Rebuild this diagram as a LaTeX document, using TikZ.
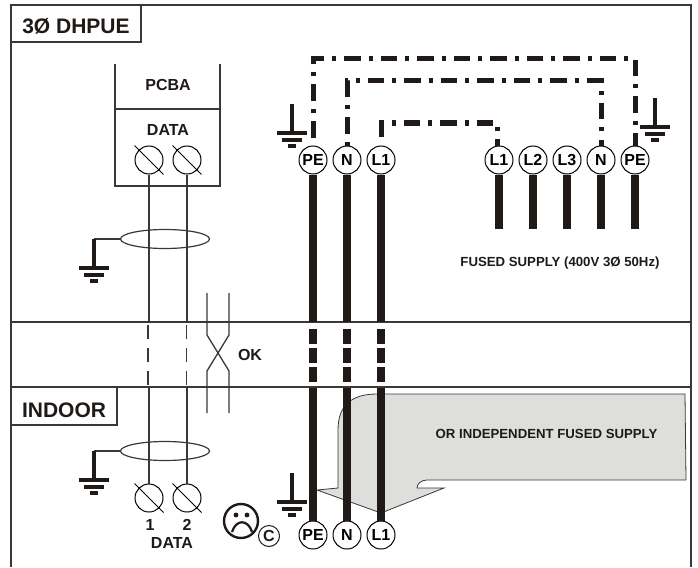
\documentclass[tikz,border=0pt]{standalone}
\usepackage{fontspec}
\usetikzlibrary{shapes.geometric}
\setmainfont{Liberation Sans}
\definecolor{cablecol}{HTML}{1F1A17}
\definecolor{linecol}{HTML}{3A3836}
\definecolor{notecol}{HTML}{DEDEDD}
\tikzset{
  term/.style={draw, circle, minimum size=28pt, inner sep=0pt, line width=1pt, fill=white, font=\bfseries\fontsize{16}{16}\selectfont},
  screw/.style={draw, circle, minimum size=28pt, inner sep=0pt, line width=1pt},
  cable/.style={line width=8pt, color=cablecol},
  link/.style={line width=5pt, color=cablecol, dash pattern=on 16.5pt off 8pt on 4pt off 8pt},
  wire/.style={line width=1.3pt, color=linecol},
  lab/.style={font=\bfseries\fontsize{16}{16}\selectfont, text=cablecol},
  small/.style={font=\bfseries\fontsize{13.2}{13.2}\selectfont, text=cablecol},
  tag/.style={draw=linecol, line width=1.2pt, inner sep=0pt, text depth=0pt, font=\bfseries\fontsize{21}{21}\selectfont, text=cablecol},
  screen/.style={draw=linecol, line width=1.2pt, ellipse, minimum width=89pt, minimum height=19pt, inner sep=0pt}
}
\begin{document}
\begin{tikzpicture}[x=1pt, y=-1pt]
    \useasboundingbox (0,0) rectangle (698,567);
    % frame and zones
    \draw[wire, line width=1.5pt] (11,567) -- (11,5) -- (691,5) -- (691,567);
    \draw[wire] (11,322) -- (691,322);
    \draw[wire] (11,387) -- (691,387);
    \node[tag, text height=20pt, minimum width=130pt, minimum height=37pt] (title) at (76,23.5) {3Ø DHPUE};
    \node[tag, text height=23pt, minimum width=106pt, minimum height=38pt] (indoor) at (64,406) {INDOOR};

    % note behind the cables
    \filldraw[fill=notecol, draw=linecol, line width=0.8pt] (685,394) -- (686,480) -- (427,480)
        .. controls (421,480) and (417,484) .. (417,488) -- (444,488) -- (381,513) -- (317,490) -- (338,488) -- (338,430)
        .. controls (338,405) and (352,394) .. (377,394) -- cycle;
    \node[small] (note) at (546.5,433.5) {OR INDEPENDENT FUSED SUPPLY};
    \node[small] (fused) at (560,263.5) {FUSED SUPPLY (400V 3Ø 50Hz)};

    % PCBA box
    \coordinate (boxtl) at (115,64);
    \coordinate (boxtr) at (220,64);
    \coordinate (boxml) at (115,109);
    \coordinate (boxmr) at (221,109);
    \coordinate (boxbl) at (115,186);
    \coordinate (boxbr) at (220,186);
    \draw[wire] (boxtl) -- (boxbl) -- (boxbr) -- (boxtr);
    \draw[wire] (boxml) -- (boxmr);
    \node[lab] (pcba) at (168,85) {PCBA};
    \node[lab] (data) at (168,130) {DATA};

    % data screws
    \node[screw] (sa) at (149,160) {};
    \node[screw] (sb) at (187,160) {};
    \node[screw] (sc) at (149,498) {};
    \node[screw] (sd) at (187,498) {};
    \foreach \s in {sa,sb,sc,sd}
        \draw[line width=1pt, shorten <=-6pt, shorten >=-6pt] (\s.north west) -- (\s.south east);
    \node[lab] (one) at (150,525) {1};
    \node[lab] (two) at (187,525) {2};
    \node[lab] (datb) at (172,543) {DATA};

    % data wires
    \coordinate (wa) at (149,322);
    \coordinate (wb) at (187,322);
    \coordinate (wc) at (149,387);
    \coordinate (wd) at (187,387);
    \draw[wire] (sa.south) -- (wa);
    \draw[wire] (sb.south) -- (wb);
    \draw[wire] (wc) -- (sc.north);
    \draw[wire] (wd) -- (sd.north);
    \draw[wire, dash pattern=on 14pt off 9pt] (148,325) -- (148,387);
    \draw[wire, dash pattern=on 14pt off 9pt] (186.7,325) -- (186.7,387);

    % screens
    \node[screen] (ea) at (165,239) {};
    \node[screen] (eb) at (165,451) {};
    \coordinate (ga) at (94,239);
    \coordinate (gb) at (94,451);
    \draw[wire] (ea.west) -- (ga);
    \draw[wire] (eb.west) -- (gb);

    % earths
    \foreach \x/\y in {94/239, 94/451, 292/104, 655/98, 292/473} {
        \draw[cable, line width=3.5pt] (\x,\y) -- (\x,\y+29);
        \draw[cable, line width=3.5pt] (\x-15,\y+29) -- (\x+15,\y+29);
        \draw[cable, line width=3.5pt] (\x-10,\y+36) -- (\x+10,\y+36);
        \draw[cable, line width=3.5pt] (\x-4,\y+42) -- (\x+4,\y+42);
    }

    % swap
    \coordinate (xa) at (207,293);
    \coordinate (xb) at (229,293);
    \coordinate (xc) at (207,413);
    \coordinate (xd) at (229,413);
    \draw[wire] (xa) -- (207,335) -- (229,371) -- (xd);
    \draw[wire] (xb) -- (229,335) -- (207,371) -- (xc);
    \node[lab] (ok) at (250,355) {OK};

    % terminals top
    \node[term] (tpe) at (313,160) {PE};
    \node[term] (tn) at (347,160) {N};
    \node[term] (tl) at (381,160) {L1};
    \node[term] (fa) at (499,160) {L1};
    \node[term] (fb) at (533,160) {L2};
    \node[term] (fc) at (567,160) {L3};
    \node[term] (fn) at (601,160) {N};
    \node[term] (fpe) at (635,160) {PE};

    % terminals bottom
    \node[term] (bpe) at (313,535) {PE};
    \node[term] (bn) at (347,535) {N};
    \node[term] (bl) at (381,535) {L1};

    % supply stubs
    \foreach \n in {fa,fb,fc,fn,fpe} {
        \draw[cable] (\n.south) -- ++(0,54);
    }

    % main cables
    \foreach \a/\b in {tpe/bpe,tn/bn,tl/bl} {
        \draw[cable] (\a.south) -- ++(0,147);
        \draw[cable, dash pattern=on 14.5pt off 4.5pt] (\a|-0,329) -- ++(0,53);
        \draw[cable] (\a|-0,388) -- (\b.north);
    }

    % links
    \coordinate (la) at (497,146);
    \coordinate (lb) at (381,137);
    \draw[link, dash phase=28.5pt] (tpe.north) -- (313,59) -- (635,59) -- (fpe.north);
    \draw[link, dash phase=24.5pt] (tn.north) -- (347,81) -- (601,81) -- (fn.north);
    \draw[link] (lb) -- (381,123) -- (497,123) -- (la);

    % sad face
    \node[draw=cablecol, circle, line width=2.4pt, minimum size=34pt, inner sep=0pt] (face) at (241,521) {};
    \fill[cablecol] (236,515) circle (2.4);
    \fill[cablecol] (247,515) circle (2.4);
    \draw[cable, line width=2.2pt] (232,532) .. controls (236,519) and (248,519) .. (252,532);
    \node[draw=cablecol, circle, line width=1pt, minimum size=21pt, inner sep=0pt, lab] (copyc) at (269,536) {C};
\end{tikzpicture}
\end{document}
